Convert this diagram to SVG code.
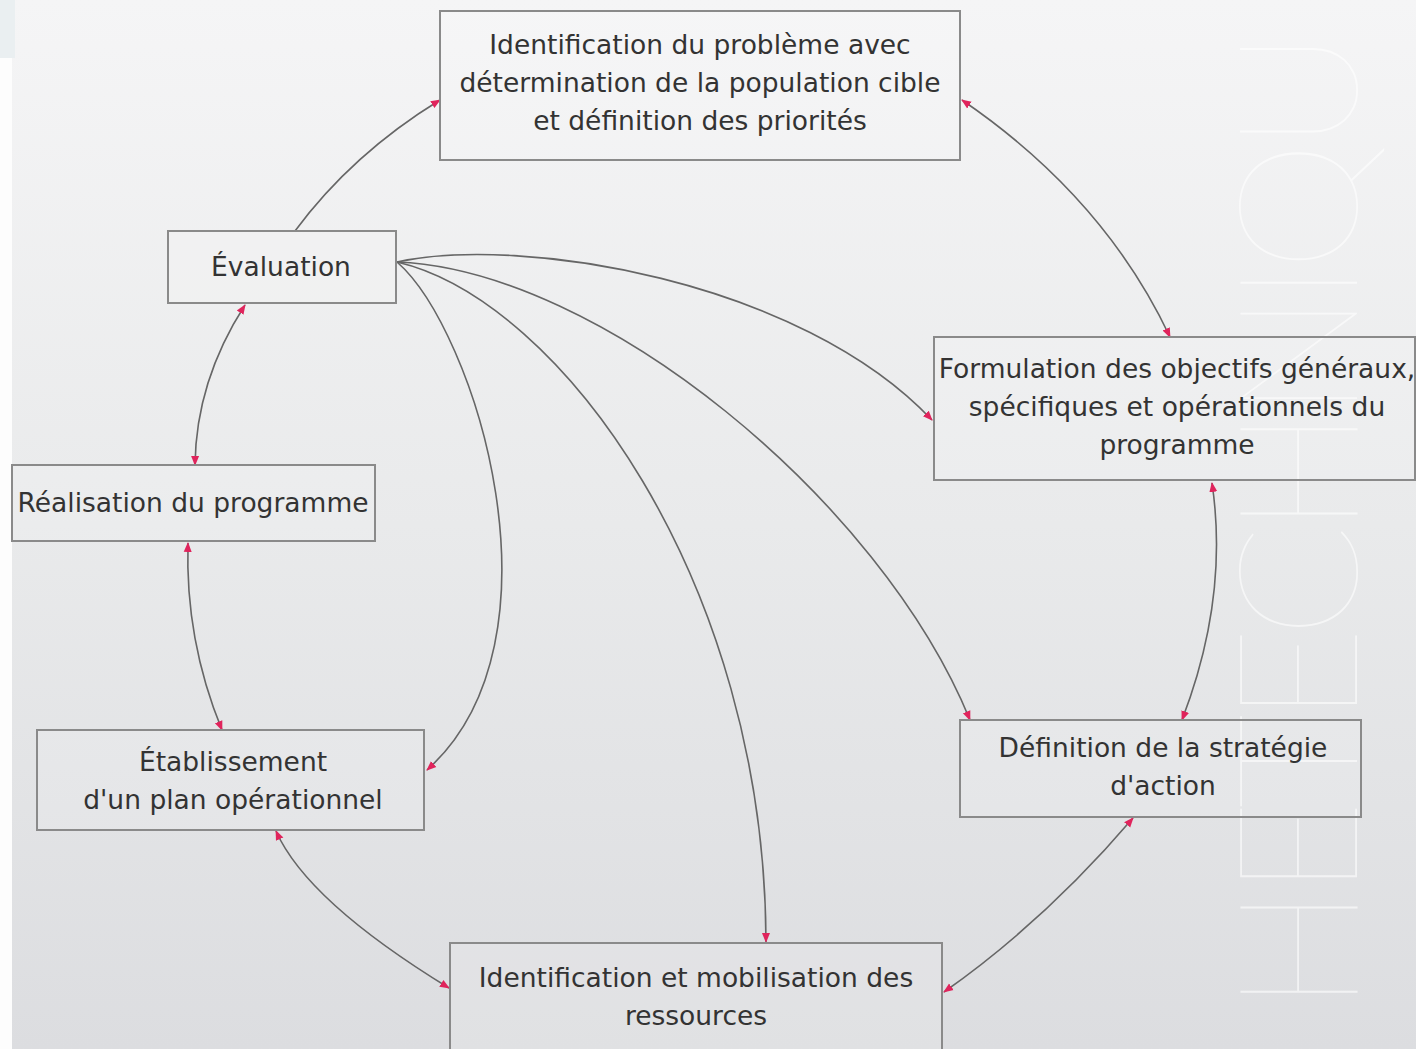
<svg xmlns="http://www.w3.org/2000/svg" width="1416" height="1049" viewBox="0 0 1416 1049">
<defs>
<linearGradient id="bg" x1="0" y1="0" x2="0" y2="1">
<stop offset="0" stop-color="#f5f5f6"/>
<stop offset="0.5" stop-color="#e9eaeb"/>
<stop offset="1" stop-color="#dcdde0"/>
</linearGradient>
<marker id="ah" viewBox="0 0 10 10" refX="9" refY="5" markerWidth="10" markerHeight="10" markerUnits="userSpaceOnUse" orient="auto-start-reverse">
<path d="M0,1 L10,5 L0,9 z" fill="#e0245c"/>
</marker>
</defs>
<style>
.box{fill:#ffffff;fill-opacity:0.12;stroke:#8a8a8a;stroke-width:2}
.t{font-family:"DejaVu Sans","Liberation Sans",sans-serif;font-size:26.5px;fill:#333333;text-anchor:middle}
.c{fill:none;stroke:#666;stroke-width:1.6}
.wm{font-family:Lato,"DejaVu Sans",sans-serif;font-weight:100;font-size:167px;fill:#ffffff;fill-opacity:0.6}
</style>
<rect x="0" y="0" width="1416" height="1049" fill="url(#bg)"/>
<rect x="0" y="0" width="15" height="58" fill="#eaeff1"/>
<rect x="0" y="58" width="12" height="991" fill="#fdfdfd"/>
<text class="wm" transform="translate(1357,1012) rotate(-90)" x="0" y="0" textLength="982" lengthAdjust="spacing">HETECHNIQU</text>

<g id="connectors">
<path class="c" d="M295,231 Q352,154 440,100" marker-end="url(#ah)"/>
<path class="c" d="M962,100 Q1104,197 1170,337" marker-start="url(#ah)" marker-end="url(#ah)"/>
<path class="c" d="M1212,483 Q1229,598 1182,720" marker-start="url(#ah)" marker-end="url(#ah)"/>
<path class="c" d="M1133,818 Q1045,921 944,992" marker-start="url(#ah)" marker-end="url(#ah)"/>
<path class="c" d="M449,988 Q307,901 276,831" marker-start="url(#ah)" marker-end="url(#ah)"/>
<path class="c" d="M222,730 Q185,640 188,543" marker-start="url(#ah)" marker-end="url(#ah)"/>
<path class="c" d="M195,465 Q196,381 245,305" marker-start="url(#ah)" marker-end="url(#ah)"/>
<path class="c" d="M397,262 C520,235 800,280 932,420" marker-end="url(#ah)"/>
<path class="c" d="M397,262 C600,270 880,500 970,720" marker-end="url(#ah)"/>
<path class="c" d="M397,262 C560,300 765,580 766,942" marker-end="url(#ah)"/>
<path class="c" d="M397,262 C475,330 572,640 427,770" marker-end="url(#ah)"/>
</g>

<g id="n-identification">
<rect class="box" x="440" y="11" width="520" height="149"/>
<text class="t" x="700" y="54">Identification du problème avec</text>
<text class="t" x="700" y="92">détermination de la population cible</text>
<text class="t" x="700" y="130">et définition des priorités</text>
</g>
<g id="n-formulation">
<rect class="box" x="934" y="337" width="481" height="143"/>
<text class="t" x="1177" y="378">Formulation des objectifs généraux,</text>
<text class="t" x="1177" y="416">spécifiques et opérationnels du</text>
<text class="t" x="1177" y="454">programme</text>
</g>
<g id="n-strategie">
<rect class="box" x="960" y="720" width="401" height="97"/>
<text class="t" x="1163" y="757">Définition de la stratégie</text>
<text class="t" x="1163" y="795">d'action</text>
</g>
<g id="n-ressources">
<rect class="box" x="450" y="943" width="492" height="110"/>
<text class="t" x="696" y="987">Identification et mobilisation des</text>
<text class="t" x="696" y="1025">ressources</text>
</g>
<g id="n-plan">
<rect class="box" x="37" y="730" width="387" height="100"/>
<text class="t" x="233" y="771">Établissement</text>
<text class="t" x="233" y="809">d'un plan opérationnel</text>
</g>
<g id="n-realisation">
<rect class="box" x="12" y="465" width="363" height="76"/>
<text class="t" x="193" y="512">Réalisation du programme</text>
</g>
<g id="n-evaluation">
<rect class="box" x="168" y="231" width="228" height="72"/>
<text class="t" x="281" y="276">Évaluation</text>
</g>
</svg>
